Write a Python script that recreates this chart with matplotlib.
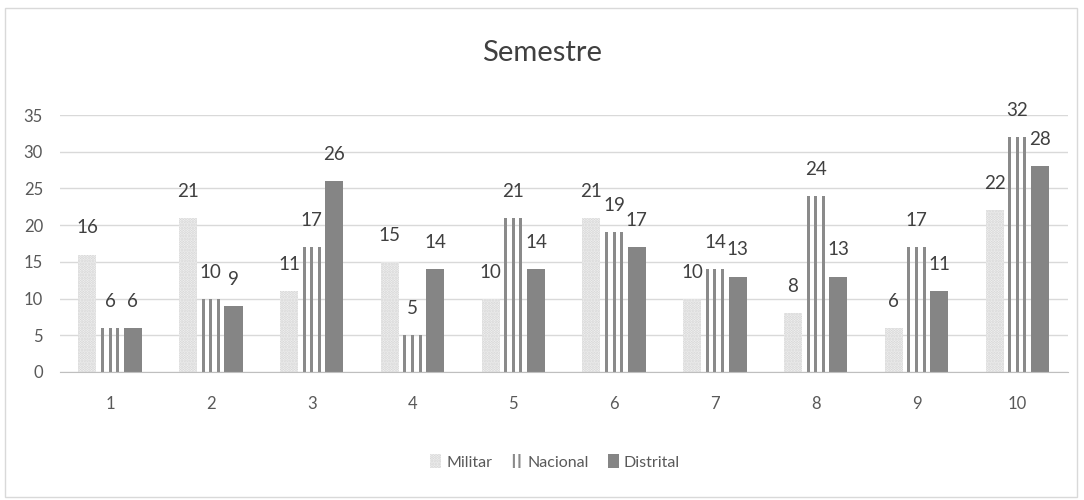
import matplotlib.pyplot as plt
import matplotlib.patches as mpatches
import numpy as np

plt.rcParams["font.family"] = ["Lato", "DejaVu Sans"]
plt.rcParams["hatch.linewidth"] = 1.5

semestres = ["1", "2", "3", "4", "5", "6", "7", "8", "9", "10"]
militar = [16, 21, 11, 15, 10, 21, 10, 8, 6, 22]
nacional = [6, 10, 17, 5, 21, 19, 14, 24, 17, 32]
distrital = [6, 9, 26, 14, 14, 17, 13, 13, 11, 28]

fig = plt.figure(figsize=(10.84, 5.0), dpi=100)
ax = fig.add_axes([0.055, 0.256, 0.93, 0.514])

# chart area border
fig.patches.append(mpatches.Rectangle((0.005, 0.006), 0.989, 0.978, transform=fig.transFigure,
                                      fill=False, edgecolor="#d9d9d9", linewidth=1.0))

x = np.arange(len(semestres))
w = 0.18
step = 0.225
stripe = 0.03
line_color = "#8a8a8a"

b1 = ax.bar(x - step, militar, w, facecolor="#f6f6f6", edgecolor="#d2d2d2",
            hatch="......", linewidth=0, label="Militar")
# Nacional: striped bar, three vertical stripes per bar
for off in (-0.075, 0.0, 0.075):
    b2 = ax.bar(x + off, nacional, stripe, color=line_color, linewidth=0)
b3 = ax.bar(x + step, distrital, w, facecolor="#858585", edgecolor="#858585",
            linewidth=0, label="Distrital")

for pos, vals in [(x - step, militar), (x, nacional), (x + step, distrital)]:
    for px, v in zip(pos, vals):
        ax.annotate(str(v), (px, v), xytext=(0, 13), textcoords="offset points",
                    ha="center", va="bottom", fontsize=13.5, color="#404040")

ax.set_ylim(0, 35)
ax.set_xlim(-0.5, len(semestres) - 0.5)
ax.set_yticks(range(0, 36, 5))
ax.set_xticks(x)
ax.set_xticklabels(semestres)
ax.yaxis.grid(True, color="#d9d9d9", linewidth=1)
ax.set_axisbelow(True)
for s in ["top", "right", "left"]:
    ax.spines[s].set_visible(False)
ax.spines["bottom"].set_color("#bfbfbf")
ax.tick_params(axis="both", length=0, labelsize=12, labelcolor="#595959")
ax.tick_params(axis="x", pad=17)
ax.tick_params(axis="y", pad=12)

fig.suptitle("Semestre", y=0.92, fontsize=21, color="#404040")

h_nac = mpatches.Patch(facecolor="white", edgecolor=line_color, hatch="|||",
                       linewidth=0, label="Nacional")
fig.legend(handles=[b1, h_nac, b3], loc="center", bbox_to_anchor=(0.512, 0.076), ncol=3,
           frameon=False, fontsize=11.5, handlelength=0.7, handleheight=0.9,
           columnspacing=1.2, handletextpad=0.3, labelcolor="#595959")

fig.savefig("out.png", dpi=100, facecolor="white")
